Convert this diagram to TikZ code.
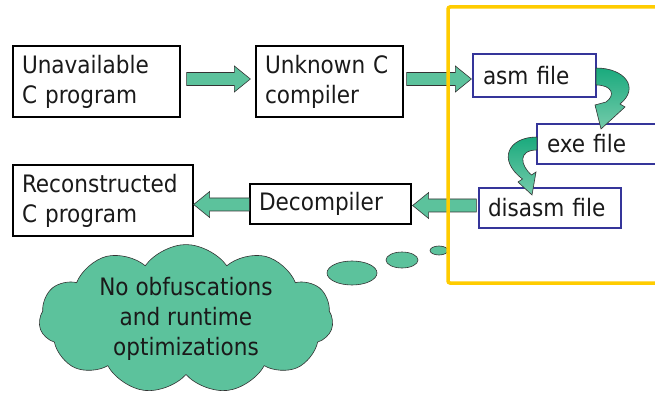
\documentclass[tikz,border=0pt]{standalone}
\usepackage{fontspec}
\setmainfont{DejaVu Sans Condensed}
\usetikzlibrary{calc,shapes.symbols}

\definecolor{mint}{HTML}{5CC29C}
\definecolor{deepmint}{HTML}{1AAA7D}
\definecolor{boxblue}{HTML}{35359A}
\definecolor{frameyellow}{HTML}{FFCC00}
\definecolor{ink}{HTML}{1A1A1A}

% flat block arrow from #1 to the tip #2
\newcommand\blockarrow[2]{%
  \coordinate (ba-h) at ($(#2)!16pt!(#1)$);
  \draw[fatarrow] ($(#1)!6.5pt!90:(#2)$) -- ($(ba-h)!6.5pt!-90:(#1)$)
    -- ($(ba-h)!13pt!-90:(#1)$) -- (#2) -- ($(ba-h)!13pt!90:(#1)$)
    -- ($(ba-h)!6.5pt!90:(#1)$) -- ($(#1)!6.5pt!-90:(#2)$) -- cycle;}

\begin{document}
\begin{tikzpicture}[x=1pt,y=-1pt,
  every node/.style={font=\fontsize{24}{30}\selectfont, text=ink},
  box/.style={draw=black, line width=1.3pt, fill=white, inner xsep=9pt, align=left},
  filebox/.style={box, draw=boxblue},
  fatarrow/.style={fill=mint, draw=black!80, line width=0.6pt},
  turnarrow/.style={top color=deepmint, bottom color=mint!85, draw=black!80, line width=0.6pt},
  bubble/.style={fill=mint, draw=black!80, line width=0.6pt}]
	\useasboundingbox (0,0) rectangle (655,395);
	\fill[white] (0,0) rectangle (655,395);

	% outer chain
	\node[box, text width=149pt, minimum height=71pt] (unavail) at (96.5,81.5) {Unavailable\\C program};
	\node[box, text width=129pt, minimum height=71pt] (compiler) at (329.5,81.5) {Unknown C\\compiler};
	\node[box, text width=143pt, minimum height=40pt] (decomp) at (330.5,204) {Decompiler};
	\node[box, text width=162pt, minimum height=71pt] (recon) at (103,200.5) {Reconstructed\\C program};

	% files inside the frame
	\node[filebox, text width=103pt, minimum height=43pt, inner xsep=10pt] (asm) at (534.5,75.5) {asm file};
	\node[filebox, text width=101pt, minimum height=40pt, inner xsep=10pt] (exe) at (597.5,144) {exe file};
	\node[filebox, text width=124pt, minimum height=40pt] (disasm) at (550,208) {disasm file};

	\blockarrow{$(unavail.east)+(6,-2.5)$}{$(compiler.west)+(-5,-2.5)$}
	\blockarrow{$(compiler.east)+(3,-2.5)$}{$(asm.west)+(-1,3.5)$}
	\blockarrow{$(disasm.west)+(-2,-2.5)$}{$(decomp.east)+(1,1.5)$}
	\blockarrow{$(decomp.west)+(0,0.5)$}{$(recon.east)+(0,4)$}

	% asm -> exe and exe -> disasm turns
	\draw[turnarrow] (596,68) .. controls (625,68) and (640,88) .. (620,104) -- (625,107) -- (601,129) -- (595,105) -- (606,102) .. controls (616,95) and (612,85) .. (596,85) -- cycle;
	\draw[turnarrow] (537,137) .. controls (508,137) and (497,160) .. (522.5,179) -- (518,182) -- (532,195) -- (536,172) -- (531.5,175) .. controls (520,165) and (518,150) .. (537,150) -- cycle;

	% thought
	\node[cloud, cloud puffs=11, cloud puff arc=110, cloud ignores aspect, minimum width=294pt, minimum height=148pt,
	  fill=mint, draw=black!80, line width=0.6pt, align=center, inner sep=0pt] (thought) at (186,319)
	  {No obfuscations\\and runtime\\optimizations};
	\draw[bubble] (352,273) ellipse [x radius=25, y radius=12];
	\draw[bubble] (402,260) ellipse [x radius=16, y radius=8];
	\draw[bubble] (439,250.5) ellipse [x radius=9, y radius=4.5];

	\draw[frameyellow, line width=3.5pt, rounded corners=2pt] (670,7) -- (448,7) -- (448,283) -- (670,283);
\end{tikzpicture}
\end{document}
